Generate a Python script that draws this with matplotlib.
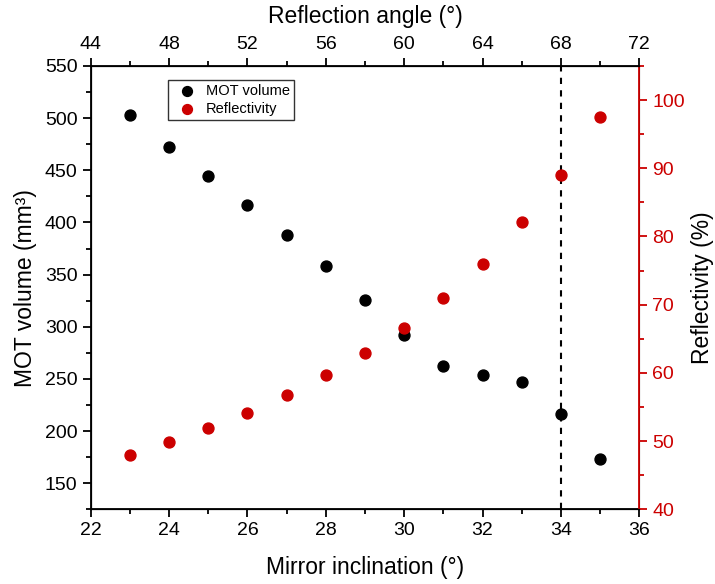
import matplotlib.pyplot as plt
from matplotlib.ticker import MultipleLocator

plt.rcParams['font.family'] = ['Liberation Sans', 'DejaVu Sans']

# mirror inclination (deg)
inclination = [23, 24, 25, 26, 27, 28, 29, 30, 31, 32, 33, 34, 35]
mot_volume = [503, 472, 445, 417, 388, 358, 326, 292, 262, 254, 247, 216, 173]
reflectivity = [47.9, 49.9, 51.9, 54.1, 56.8, 59.7, 62.9, 66.6, 71.0, 76.0, 82.1, 89.0, 97.5]
cutoff = 34

red = '#cc0000'
lab_fs = 16.5
tick_fs = 14

fig = plt.figure(figsize=(7.15, 5.84), dpi=100)
ax = fig.add_axes([0.127, 0.128, 0.767, 0.759])

ax.scatter(inclination, mot_volume, s=62, color='black', label='MOT volume', zorder=3)
ax.axvline(cutoff, color='black', linestyle='--', linewidth=1.5, dashes=(3, 3), zorder=2)
ax.set_xlim(22, 36)
ax.set_ylim(125, 550)
ax.xaxis.set_major_locator(MultipleLocator(2))
ax.xaxis.set_minor_locator(MultipleLocator(1))
ax.yaxis.set_minor_locator(MultipleLocator(25))
ax.set_yticks(range(150, 551, 50))
ax.set_xlabel('Mirror inclination (°)', fontsize=lab_fs, labelpad=12)
ax.set_ylabel('MOT volume (mm³)', fontsize=lab_fs, labelpad=6)
ax.tick_params(which='both', direction='out', labelsize=tick_fs, width=1.3)
ax.tick_params(which='major', length=6)
ax.tick_params(which='minor', length=3.5)
for s in ['left', 'bottom', 'top']:
    ax.spines[s].set_linewidth(1.3)

ax2 = ax.twinx()
ax2.scatter(inclination, reflectivity, s=62, color=red, label='Reflectivity', zorder=3)
ax2.set_ylim(40, 105)
ax2.yaxis.set_minor_locator(MultipleLocator(5))
ax2.set_yticks(range(40, 101, 10))
ax2.set_ylabel('Reflectivity (%)', fontsize=lab_fs, labelpad=4)
ax2.spines['right'].set_color(red)
ax2.spines['right'].set_linewidth(1.3)
ax2.tick_params(axis='y', which='both', direction='out', colors=red, labelsize=tick_fs, width=1.3)
ax2.tick_params(axis='y', which='major', length=6)
ax2.tick_params(axis='y', which='minor', length=3.5)

ax3 = ax.twiny()
ax3.set_xlim(44, 72)
ax3.xaxis.set_major_locator(MultipleLocator(4))
ax3.xaxis.set_minor_locator(MultipleLocator(2))
ax3.set_xlabel('Reflection angle (°)', fontsize=lab_fs, labelpad=9)
ax3.tick_params(which='both', direction='out', labelsize=tick_fs, width=1.3)
ax3.tick_params(which='major', length=6)
ax3.tick_params(which='minor', length=3.5)
ax3.spines['right'].set_visible(False)

h1, l1 = ax.get_legend_handles_labels()
h2, l2 = ax2.get_legend_handles_labels()
leg = ax3.legend(h1 + h2, l1 + l2, loc='upper left', bbox_to_anchor=(0.127, 0.985),
                 fontsize=10.5, frameon=True, fancybox=False, edgecolor='black',
                 handletextpad=0.3, borderpad=0.3, labelspacing=0.25, markerscale=0.9)
leg.get_frame().set_linewidth(1.0)

fig.savefig('out.png', dpi=100)
